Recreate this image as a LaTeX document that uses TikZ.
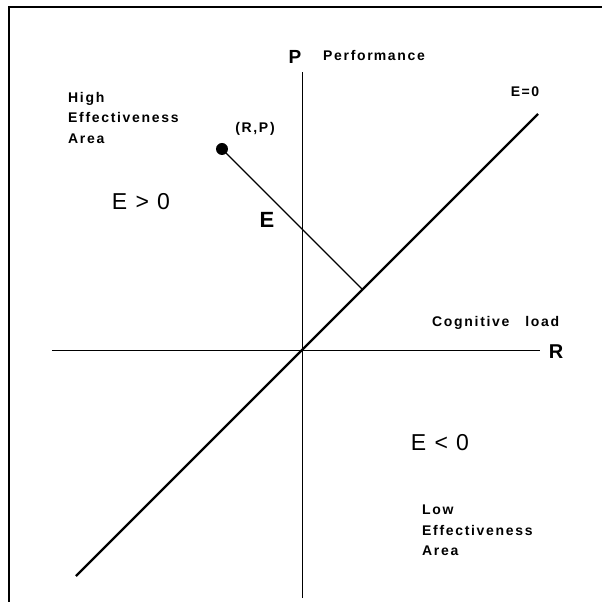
\documentclass[tikz,border=0pt]{standalone}
\usepackage{fontspec}
\setmainfont{Liberation Sans}
\newfontfamily\spacedfont[LetterSpace=12]{Liberation Sans}
\newfontfamily\widefont[LetterSpace=8]{Liberation Sans}
\begin{document}
\begin{tikzpicture}[x=1pt,y=1pt,
  small/.style={inner sep=0pt,font=\spacedfont\bfseries\fontsize{14}{20.5}\selectfont},
  big/.style={inner sep=0pt,font=\widefont\fontsize{23}{26}\selectfont},
  axislabel/.style={inner sep=0pt,font=\bfseries\fontsize{20}{24}\selectfont}]
\useasboundingbox (-302,-252) rectangle (300,350);
\draw[line width=2pt] (-293,-252)--(-293,342.5)--(300,342.5);
% axes
\coordinate (o) at (0,0);
\coordinate (ptop) at (0,278);\coordinate (pbot) at (0,-248);
\coordinate (rleft) at (-250,0);\coordinate (rright) at (238,0);
\draw[line width=.9pt] (pbot)--(ptop);
\draw[line width=.9pt] (rleft)--(rright);
\coordinate (lo) at (-226,-226);\coordinate (hi) at (236,236);
\draw[line width=2.2pt] (lo)--(hi);
% point and its distance
\coordinate (rp) at (-80,201);
\coordinate (foot) at (60.5,60.5);
\draw[line width=1.2pt] (rp)--(foot);
\fill (rp) circle (6);
\node[axislabel,font=\bfseries\fontsize{19}{22}\selectfont] (P) at (-7,293.5) {P};
\node[small,anchor=west] (perf) at (21,294) {Perfor\kern1pt mance};
\node[small] (ezero) at (223,258) {E\kern1.5pt=\kern1.5pt0};
\node[small,align=left,anchor=north west] (high) at (-234,258) {High\\Effectiveness\\Area};
\node[small] (rplbl) at (-47,221) {(R,P)};
\node[big] (epos) at (-161,148) {E > 0};
\node[axislabel,font=\bfseries\fontsize{22}{24}\selectfont] (E) at (-35,130) {E};
\node[small,anchor=west] (cog) at (130,27) {Cognitive\hspace{16pt}load};
\node[axislabel] (R) at (254,-2) {R};
\node[big] (eneg) at (138,-93) {E < 0};
\node[small,align=left,anchor=north west] (low) at (120,-155) {Low\\Effectiveness\\Area};
\end{tikzpicture}
\end{document}
